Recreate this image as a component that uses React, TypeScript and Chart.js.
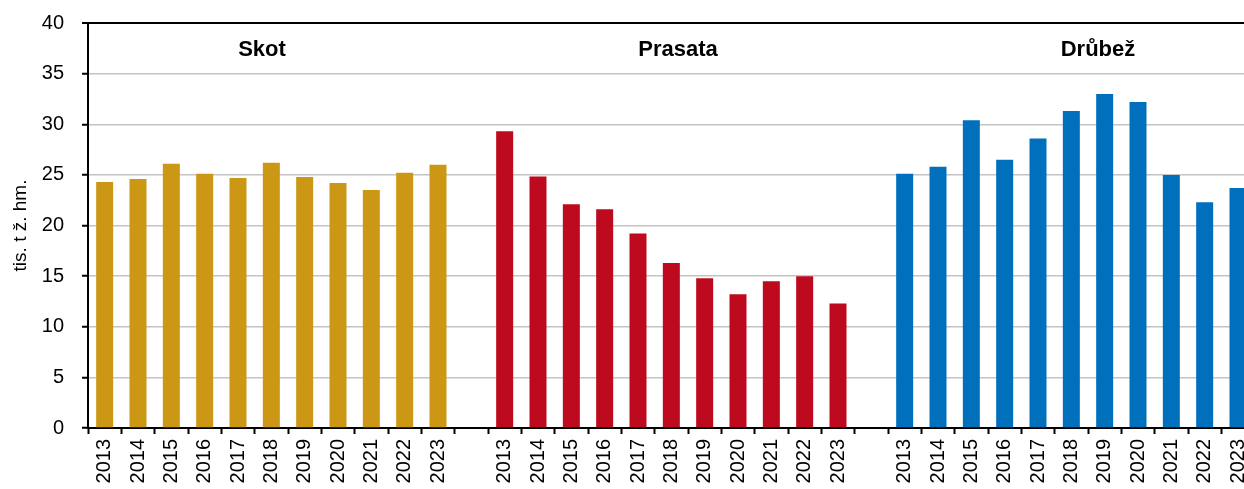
import React, { useEffect, useRef } from "react";
import { Chart, registerables } from "chart.js";

Chart.register(...registerables);

const years = ["2013", "2014", "2015", "2016", "2017", "2018", "2019", "2020", "2021", "2022", "2023"];
const groupNames = ["Skot", "Prasata", "Drůbež"];
const skot = [24.3, 24.6, 26.1, 25.1, 24.7, 26.2, 24.8, 24.2, 23.5, 25.2, 26.0];
const prasata = [29.3, 24.85, 22.1, 21.6, 19.2, 16.3, 14.8, 13.2, 14.5, 15.0, 12.3];
const drubez = [25.1, 25.8, 30.4, 26.5, 28.6, 31.3, 33.0, 32.2, 25.0, 22.3, 23.7];
const yTicks = [0, 5, 10, 15, 20, 25, 30, 35, 40];
const yTitle = "tis. t ž. hm.";
const colors = ["#CC9714", "#BE0A1F", "#0070BC"];
// group title anchor: fractional category index and y value
const titleAnchors = [
  { x: 4.72, y: 37.3 },
  { x: 17.2, y: 37.3 },
  { x: 29.8, y: 37.3 },
];

const labels: string[] = [...years, "", ...years, "", ...years];
const blank = (n: number) => Array(n).fill(null);
const series = [
  [...skot, ...blank(1 + 11 + 1 + 11)],
  [...blank(12), ...prasata, ...blank(12)],
  [...blank(24), ...drubez],
];

const FONT = '"Liberation Sans", Arial, sans-serif';

const titlesPlugin = {
  id: "groupTitles",
  afterDatasetsDraw(chart: any) {
    const { ctx, scales } = chart;
    ctx.save();
    ctx.font = `bold 22px ${FONT}`;
    ctx.fillStyle = "#000";
    ctx.textAlign = "center";
    ctx.textBaseline = "middle";
    groupNames.forEach((name, i) => {
      const a = titleAnchors[i];
      ctx.fillText(name, scales.x.getPixelForValue(a.x), scales.y.getPixelForValue(a.y));
    });
    ctx.restore();
  },
};

export default function App() {
  const ref = useRef<HTMLCanvasElement>(null);
  useEffect(() => {
    if (!ref.current) return;
    const chart = new Chart(ref.current, {
      type: "bar",
      data: {
        labels,
        datasets: series.map((d, i) => ({
          label: groupNames[i],
          data: d,
          backgroundColor: colors[i],
          borderWidth: 0,
          grouped: false,
          barPercentage: 0.51,
          categoryPercentage: 1,
        })),
      },
      options: {
        responsive: false,
        animation: false,
        devicePixelRatio: 1,
        layout: { padding: { top: 15, left: 0, right: 0, bottom: 0 } },
        plugins: {
          legend: { display: false },
          tooltip: { enabled: false },
        },
        scales: {
          x: {
            offset: true,
            afterFit: (s: any) => {
              s.height = 61;
            },
            grid: {
              offset: true,
              drawOnChartArea: false,
              drawTicks: true,
              tickLength: 6,
              tickColor: "#000",
              tickWidth: 2,
            },
            border: { color: "#000", width: 2 },
            ticks: {
              autoSkip: false,
              maxRotation: 90,
              minRotation: 90,
              padding: 5,
              color: "#000",
              font: { family: FONT, size: 20 },
            },
          },
          y: {
            min: 0,
            max: 40,
            afterFit: (s: any) => {
              s.width = 88;
            },
            afterBuildTicks: (s: any) => {
              s.ticks = yTicks.map((v) => ({ value: v }));
            },
            grid: {
              color: (c: any) => (c.tick && c.tick.value === 40 ? "#000" : "#c4c4c4"),
              lineWidth: (c: any) => (c.tick && c.tick.value === 40 ? 2 : 1.5),
              tickLength: 6,
              tickColor: "#000",
              tickWidth: 2,
            },
            border: { color: "#000", width: 2 },
            ticks: {
              padding: 18,
              color: "#000",
              font: { family: FONT, size: 20 },
            },
            title: {
              display: true,
              text: yTitle,
              color: "#000",
              font: { family: FONT, size: 19 },
              padding: { top: 9, bottom: 0 },
            },
          },
        },
      },
      plugins: [titlesPlugin],
    });
    return () => chart.destroy();
  }, []);

  return (
    <div style={{ position: "fixed", left: 0, top: 0, width: 1244, height: 489, overflow: "hidden", background: "#fff" }}>
      <canvas
        ref={ref}
        width={1267}
        height={496}
        style={{ position: "absolute", left: 0, top: -7, width: 1267, height: 496, display: "block" }}
      />
    </div>
  );
}
